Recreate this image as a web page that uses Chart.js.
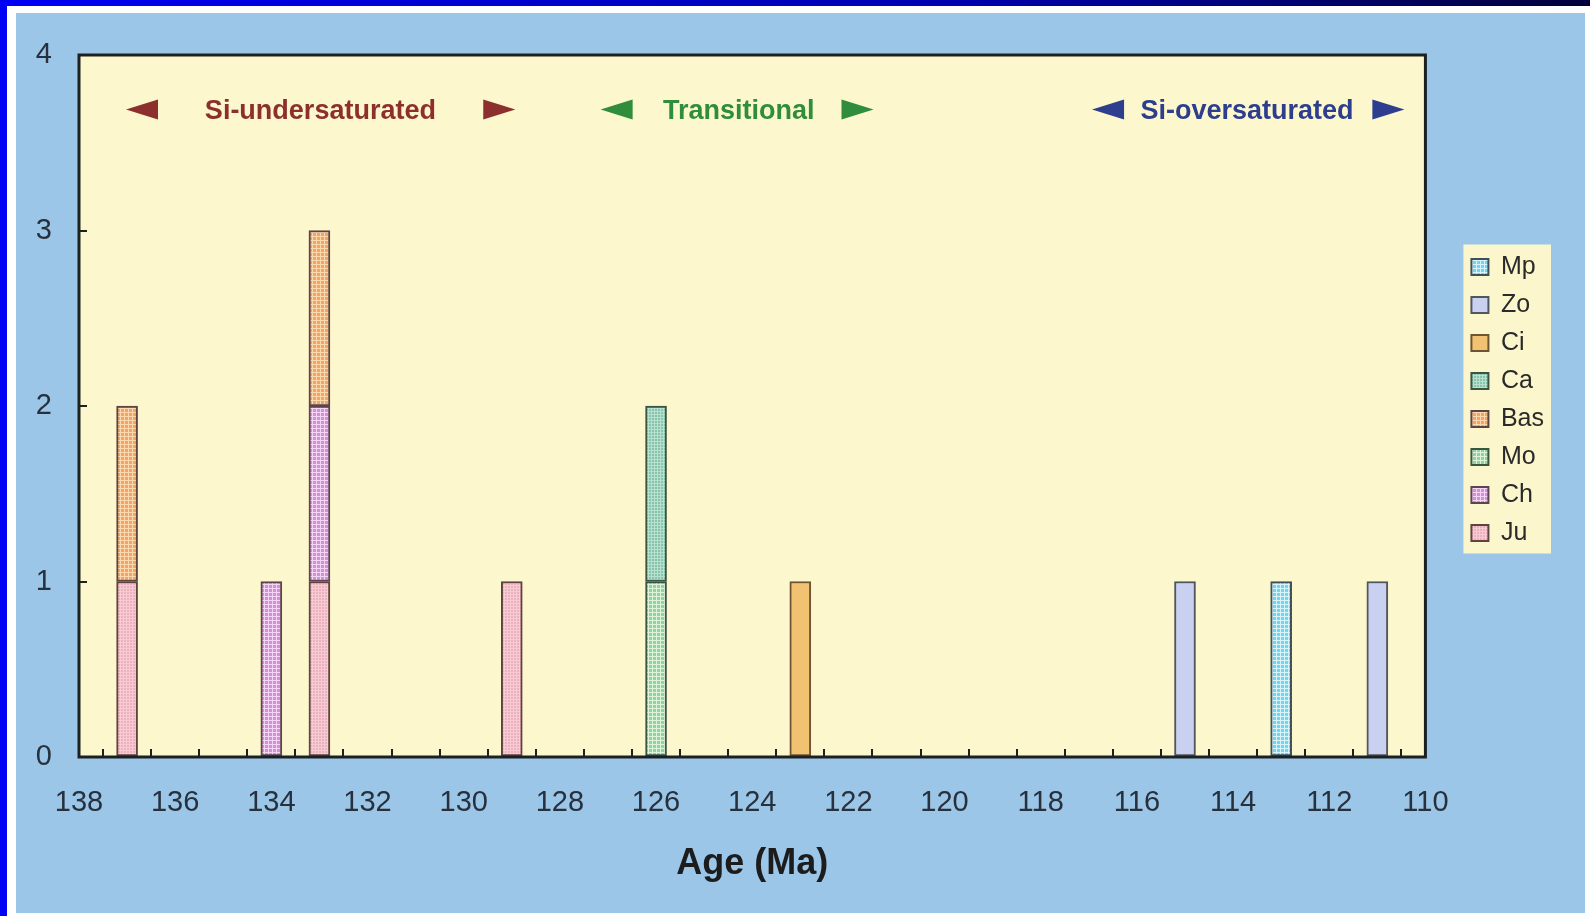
<!DOCTYPE html>
<html>
<head>
<meta charset="utf-8">
<title>Age (Ma)</title>
<script src="https://cdn.jsdelivr.net/npm/chart.js@4.4.1/dist/chart.umd.min.js"></script>
<style>
  html, body { margin: 0; padding: 0; background: #fff; overflow: hidden; }
  canvas { display: block; }
</style>
</head>
<body>
<canvas id="ageChart" width="1590" height="916"></canvas>
<script>
// --- data ---
const ages = [137, 134, 133, 129, 126, 123, 115, 113, 111];
const ju  = [1, 0, 1, 1, 0, 0, 0, 0, 0];
const ch  = [0, 1, 1, 0, 0, 0, 0, 0, 0];
const mo  = [0, 0, 0, 0, 1, 0, 0, 0, 0];
const bas = [1, 0, 1, 0, 0, 0, 0, 0, 0];
const ca  = [0, 0, 0, 0, 1, 0, 0, 0, 0];
const ci  = [0, 0, 0, 0, 0, 1, 0, 0, 0];
const zo  = [0, 0, 0, 0, 0, 0, 1, 0, 1];
const mp  = [0, 0, 0, 0, 0, 0, 0, 1, 0];

const ageMin = 110, ageMax = 138, countMax = 4;

// zone labels across the top (positions in Ma)
const zoneLabels  = ['Si-undersaturated', 'Transitional', 'Si-oversaturated'];
const zoneCentres = [132.98, 124.28, 113.71];
const zoneLeft    = [136.69, 126.82, 116.60];
const zoneRight   = [129.26, 121.81, 110.77];
const zoneColours = ['#8c2f2d', '#2f8d3c', '#2d3e8e'];
const zoneLevel   = 3.69;

const FONT = "'Liberation Sans', Arial, sans-serif";

// small checker/grid fill like the screened bars
function gridFill(base, light, step) {
  const c = document.createElement('canvas');
  c.width = c.height = step;
  const g = c.getContext('2d');
  g.fillStyle = base;
  g.fillRect(0, 0, step, step);
  g.fillStyle = light;
  g.fillRect(0, 0, step, 1);
  g.fillRect(0, 0, 1, step);
  return g.createPattern(c, 'repeat');
}

function points(counts) {
  return ages.map((a, i) => ({ x: a, y: counts[i] })).filter(p => p.y > 0);
}

function series(label, counts, fill, border) {
  return {
    label: label,
    data: points(counts),
    backgroundColor: fill,
    borderColor: border,
    borderWidth: 2,
    borderSkipped: false,
    barThickness: 21
  };
}

// --- panel, plot area and legend backgrounds ---
const backdrop = {
  id: 'backdrop',
  afterLayout(chart) {
    // the legend column sits a little above the plot's centre
    const lg = chart.legend;
    if (lg) { lg.top -= 6; lg.bottom -= 6; }
  },
  beforeDraw(chart) {
    const { ctx, width, height, chartArea: a, legend } = chart;
    ctx.save();
    ctx.fillStyle = '#ffffff';
    ctx.fillRect(0, 0, width, height);
    const top = ctx.createLinearGradient(0, 0, width, 0);
    top.addColorStop(0, '#0000f4');
    top.addColorStop(0.6, '#0000b0');
    top.addColorStop(1, '#00003c');
    ctx.fillStyle = top;
    ctx.fillRect(0, 0, width, 6);
    ctx.fillStyle = '#0000f4';
    ctx.fillRect(0, 0, 7, height);
    ctx.fillStyle = '#9cc6e8';
    ctx.fillRect(16, 13, 1569, 900);
    ctx.fillStyle = '#fcf7cd';
    ctx.fillRect(a.left, a.top, a.right - a.left, a.bottom - a.top);
    if (legend && legend.legendHitBoxes.length) {
      const hb = legend.legendHitBoxes;
      const l = Math.min(...hb.map(b => b.left)) - 8;
      const r = Math.max(...hb.map(b => b.left + b.width)) + 7;
      const t = Math.min(...hb.map(b => b.top)) - 10;
      const btm = Math.max(...hb.map(b => b.top + b.height)) + 8;
      ctx.fillStyle = '#fbf6cc';
      ctx.fillRect(l, t, r - l, btm - t);
    }
    ctx.restore();
  },
  afterDatasetsDraw(chart) {
    const { ctx, chartArea: a, scales } = chart;
    ctx.save();
    ctx.strokeStyle = '#1b2020';
    ctx.lineWidth = 3;
    ctx.strokeRect(a.left, a.top, a.right - a.left, a.bottom - a.top);

    // zone captions with arrow heads
    const y = scales.y.getPixelForValue(zoneLevel);
    ctx.font = 'bold 27px ' + FONT;
    ctx.textAlign = 'center';
    ctx.textBaseline = 'middle';
    zoneLabels.forEach((txt, i) => {
      ctx.fillStyle = zoneColours[i];
      ctx.fillText(txt, scales.x.getPixelForValue(zoneCentres[i]), y + 2);
      const xl = scales.x.getPixelForValue(zoneLeft[i]);
      const xr = scales.x.getPixelForValue(zoneRight[i]);
      ctx.beginPath();
      ctx.moveTo(xl - 16, y);
      ctx.lineTo(xl + 16, y - 10);
      ctx.lineTo(xl + 16, y + 10);
      ctx.closePath();
      ctx.fill();
      ctx.beginPath();
      ctx.moveTo(xr + 16, y);
      ctx.lineTo(xr - 16, y - 10);
      ctx.lineTo(xr - 16, y + 10);
      ctx.closePath();
      ctx.fill();
    });
    ctx.restore();
  }
};

const tickColour = '#27313e';
const axisColour = '#1b2020';

new Chart(document.getElementById('ageChart'), {
  type: 'bar',
  data: {
    datasets: [
      series('Ju',  ju,  gridFill('#eeb0bd', '#f6ccd4', 3), '#5e4440'),
      series('Ch',  ch,  gridFill('#d48fd8', '#f3d6f3', 4), '#5e4450'),
      series('Mo',  mo,  gridFill('#8fd59a', '#dff3dc', 4), '#3a5642'),
      series('Bas', bas, gridFill('#f2a463', '#fbd9b0', 4), '#5e4440'),
      series('Ca',  ca,  gridFill('#86c4ad', '#b8e0cf', 3), '#3a5642'),
      series('Ci',  ci,  '#f1c272', '#6e5434'),
      series('Zo',  zo,  '#c9d0f0', '#50565e'),
      series('Mp',  mp,  gridFill('#6fd6ee', '#d8f4fb', 4), '#40505a')
    ]
  },
  options: {
    responsive: false,
    animation: false,
    layout: { padding: { left: 16, top: 55, right: 36, bottom: 3 } },
    plugins: {
      tooltip: { enabled: false },
      legend: {
        position: 'right',
        reverse: true,
        fullSize: false,
        labels: {
          boxWidth: 17,
          boxHeight: 16,
          padding: 13,
          color: '#2a2a2a',
          font: { family: FONT, size: 25 }
        }
      }
    },
    scales: {
      x: {
        type: 'linear',
        reverse: true,
        min: ageMin,
        max: ageMax,
        stacked: true,
        offset: false,
        z: 1,
        border: { display: false },
        grid: { drawOnChartArea: false, drawTicks: true, tickLength: -8, color: axisColour, lineWidth: 2 },
        ticks: {
          stepSize: 1,
          autoSkip: false,
          maxRotation: 0,
          padding: 37,
          color: tickColour,
          font: { family: FONT, size: 29 },
          callback: v => (v % 2 === 0 ? v : '')
        },
        title: {
          display: true,
          text: 'Age (Ma)',
          color: '#1c1c1c',
          font: { family: FONT, size: 36, weight: 'bold' },
          padding: { top: 0, bottom: 27 }
        },
        afterFit: s => { s.height = 156; }
      },
      y: {
        min: 0,
        max: countMax,
        stacked: true,
        z: 1,
        border: { display: false },
        grid: { drawOnChartArea: false, drawTicks: true, tickLength: -8, color: axisColour, lineWidth: 2 },
        ticks: { stepSize: 1, padding: 35, color: tickColour, font: { family: FONT, size: 29 } },
        afterFit: s => { s.width = 63; }
      },
      gap: {
        position: 'right',
        display: true,
        grid: { display: false },
        border: { display: false },
        ticks: { display: false },
        afterFit: s => { s.width = 33; }
      }
    }
  },
  plugins: [backdrop]
});
</script>
</body>
</html>
